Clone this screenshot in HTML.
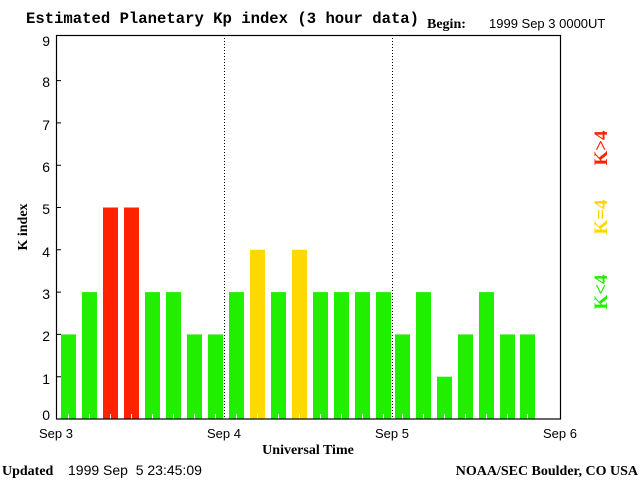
<!DOCTYPE html>
<html><head><meta charset="utf-8"><style>
html,body{margin:0;padding:0;background:#fff;}
svg{display:block}
</style></head><body>
<svg width="640" height="480" xmlns="http://www.w3.org/2000/svg">
<rect width="640" height="480" fill="#fff"/>
<text x="26" y="23" font-family="Liberation Mono, monospace" font-size="15.6" font-weight="bold" fill="#000">Estimated Planetary Kp index (3 hour data)</text>
<text x="427" y="28" font-family="Liberation Serif, serif" font-size="14" font-weight="bold" fill="#000">Begin:</text>
<text x="489" y="28" font-family="Liberation Sans, sans-serif" font-size="13" fill="#000">1999 Sep 3 0000UT</text>
<g id="bars"></g>
<g fill="#22ee00">
<rect x="61" y="334.4" width="15" height="84.6"/>
<rect x="82" y="292.1" width="15" height="126.9"/>
<rect x="145" y="292.1" width="15" height="126.9"/>
<rect x="166" y="292.1" width="15" height="126.9"/>
<rect x="187" y="334.4" width="15" height="84.6"/>
<rect x="208" y="334.4" width="15" height="84.6"/>
<rect x="229" y="292.1" width="15" height="126.9"/>
<rect x="271" y="292.1" width="15" height="126.9"/>
<rect x="313" y="292.1" width="15" height="126.9"/>
<rect x="334" y="292.1" width="15" height="126.9"/>
<rect x="355" y="292.1" width="15" height="126.9"/>
<rect x="376" y="292.1" width="15" height="126.9"/>
<rect x="395" y="334.4" width="15" height="84.6"/>
<rect x="416" y="292.1" width="15" height="126.9"/>
<rect x="437" y="376.7" width="15" height="42.3"/>
<rect x="458" y="334.4" width="15" height="84.6"/>
<rect x="479" y="292.1" width="15" height="126.9"/>
<rect x="500" y="334.4" width="15" height="84.6"/>
<rect x="520" y="334.4" width="15" height="84.6"/>
</g>
<g fill="#ff2200">
<rect x="103" y="207.5" width="15" height="211.5"/>
<rect x="124" y="207.5" width="15" height="211.5"/>
</g>
<g fill="#ffd800">
<rect x="250" y="249.8" width="15" height="169.2"/>
<rect x="292" y="249.8" width="15" height="169.2"/>
</g>
<g stroke="#fff" stroke-width="1">
<path d="M68.5 419v-5M89.5 419v-5M110.5 419v-5M131.5 419v-5M152.5 419v-5M173.5 419v-5M194.5 419v-5M215.5 419v-5M236.5 419v-5M257.5 419v-5M278.5 419v-5M299.5 419v-5M320.5 419v-5M341.5 419v-5M362.5 419v-5M383.5 419v-5M402.5 419v-5M423.5 419v-5M444.5 419v-5M465.5 419v-5M486.5 419v-5M507.5 419v-5M527.5 419v-5"/>
</g>
<g stroke="#000" stroke-width="1" stroke-dasharray="1,2">
<line x1="224.5" y1="35" x2="224.5" y2="419"/>
<line x1="392.5" y1="35" x2="392.5" y2="419"/>
</g>
<rect x="56.5" y="35.5" width="504" height="383.5" fill="none" stroke="#000" stroke-width="1.2"/>
<g stroke="#000">
<path d="M56 376.7h5M56 334.4h5M56 292.1h5M56 249.8h5M56 207.5h5M56 165.2h5M56 122.9h5M56 80.6h5"/>
</g>
<g font-family="Liberation Sans, sans-serif" font-size="14" fill="#000" text-anchor="end">
<text x="50" y="420">0</text><text x="50" y="384">1</text><text x="50" y="341">2</text>
<text x="50" y="299">3</text><text x="50" y="257">4</text><text x="50" y="214">5</text>
<text x="50" y="172">6</text><text x="50" y="130">7</text><text x="50" y="87">8</text><text x="50" y="46">9</text>
</g>
<g font-family="Liberation Sans, sans-serif" font-size="13" fill="#000" text-anchor="middle">
<text x="56" y="438">Sep 3</text><text x="224" y="438">Sep 4</text><text x="392" y="438">Sep 5</text><text x="560" y="438">Sep 6</text>
</g>
<text x="308" y="454" text-anchor="middle" font-family="Liberation Serif, serif" font-size="14" font-weight="bold">Universal Time</text>
<text transform="translate(27,227) rotate(-90)" text-anchor="middle" font-family="Liberation Serif, serif" font-size="14" font-weight="bold">K index</text>
<g font-family="Liberation Serif, serif" font-size="19" font-weight="bold" text-anchor="middle">
<text transform="translate(607,148) rotate(-90)" fill="#ff2200">K&gt;4</text>
<text transform="translate(607,217) rotate(-90)" fill="#ffd800">K=4</text>
<text transform="translate(607,292) rotate(-90)" fill="#22ee00">K&lt;4</text>
</g>
<text x="2" y="475" font-family="Liberation Serif, serif" font-size="14" font-weight="bold">Updated</text>
<text x="68" y="475" font-family="Liberation Sans, sans-serif" font-size="14" xml:space="preserve">1999 Sep  5 23:45:09</text>
<text x="638" y="475" text-anchor="end" font-family="Liberation Serif, serif" font-size="14" font-weight="bold">NOAA/SEC Boulder, CO USA</text>
</svg>
</body></html>
